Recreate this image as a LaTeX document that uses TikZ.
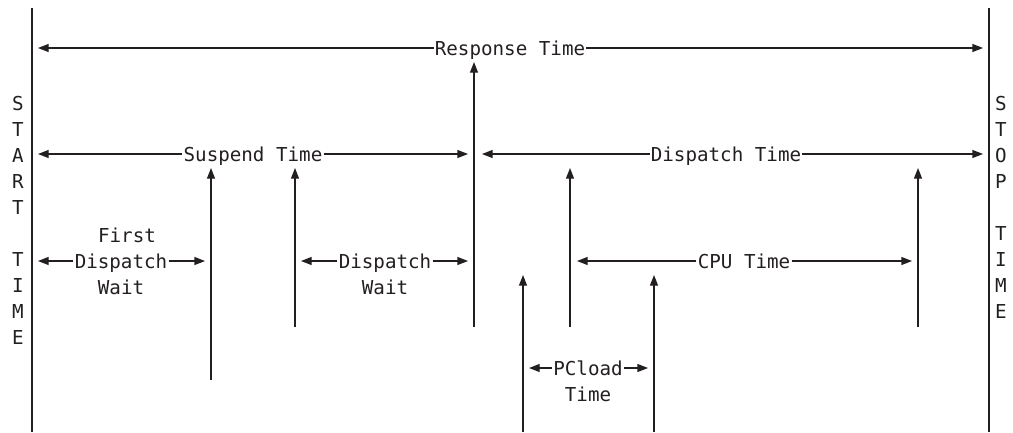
\documentclass[tikz,border=0pt]{standalone}
\usepackage{fontspec}
\usetikzlibrary{arrows.meta}
\newfontfamily\monofont{DejaVu Sans Mono}
\definecolor{ink}{RGB}{35,31,32}
\begin{document}
\begin{tikzpicture}[x=0.75pt,y=-0.75pt,
  line width=1pt, draw=ink, text=ink,
  tip/.style={-{Triangle[length=8pt,width=6pt]}, draw=ink, fill=ink},
  lbl/.style={font=\fontsize{14.4}{17}\monofont, inner xsep=0.5pt, inner ysep=0pt,
              text height=10.5pt, text depth=0pt},
  letter/.style={font=\fontsize{14.4}{17}\monofont, inner sep=0pt,
              text height=10.5pt, text depth=0pt}
]
\useasboundingbox (0,0) rectangle (1013,432);

% start and stop boundaries
\coordinate (startTop) at (32,8);   \coordinate (startBot) at (32,432);
\coordinate (stopTop)  at (989,8);  \coordinate (stopBot)  at (989,432);
\draw (startTop) -- (startBot);
\draw (stopTop) -- (stopBot);

% vertical captions
\foreach \ch/\yy [count=\i] in {S/103,T/129,A/155,R/181,T/207,T/259,I/285,M/311,E/337}
  \node[letter] (start\i) at (18,\yy) {\ch};
\foreach \ch/\yy [count=\i] in {S/103,T/129,O/155,P/181,T/233,I/259,M/285,E/311}
  \node[letter] (stop\i) at (1001,\yy) {\ch};

% event markers
\coordinate (evSusB) at (211,380);  \coordinate (evSusT) at (211,168);
\coordinate (evDwB)  at (295,327);  \coordinate (evDwT)  at (295,168);
\coordinate (evRspB) at (474,327);  \coordinate (evRspT) at (474,62);
\coordinate (evDsB)  at (570,327);  \coordinate (evDsT)  at (570,168);
\coordinate (evEndB) at (918,327);  \coordinate (evEndT) at (918,168);
\coordinate (evPlB)  at (523,432);  \coordinate (evPlT)  at (523,275);
\coordinate (evPeB)  at (654,432);  \coordinate (evPeT)  at (654,275);
\foreach \e in {Sus,Dw,Rsp,Ds,End,Pl,Pe}
  \draw[tip] (ev\e B) -- (ev\e T);

% Response Time
\node[lbl] (resp) at (510,48) {Response Time};
\coordinate (respL) at (38,48);  \coordinate (respR) at (983,48);
\draw[tip] (resp.west) -- (respL);
\draw[tip] (resp.east) -- (respR);

% Suspend Time
\node[lbl] (susp) at (253,154) {Suspend Time};
\coordinate (suspL) at (38,154);  \coordinate (suspR) at (468,154);
\draw[tip] (susp.west) -- (suspL);
\draw[tip] (susp.east) -- (suspR);

% Dispatch Time
\node[lbl] (disp) at (726,154) {Dispatch Time};
\coordinate (dispL) at (482,154);  \coordinate (dispR) at (983,154);
\draw[tip] (disp.west) -- (dispL);
\draw[tip] (disp.east) -- (dispR);

% First Dispatch Wait
\node[lbl] (fdwTop) at (127,235) {First};
\node[lbl] (fdw) at (121,261) {Dispatch};
\node[lbl] (fdwBot) at (121,287) {Wait};
\coordinate (fdwL) at (38,261);  \coordinate (fdwR) at (205,261);
\draw[tip] (fdw.west) -- (fdwL);
\draw[tip] (fdw.east) -- (fdwR);

% Dispatch Wait
\node[lbl] (dw) at (385,261) {Dispatch};
\node[lbl] (dwBot) at (385,287) {Wait};
\coordinate (dwL) at (301,261);  \coordinate (dwR) at (468,261);
\draw[tip] (dw.west) -- (dwL);
\draw[tip] (dw.east) -- (dwR);

% CPU Time
\node[lbl] (cpu) at (744,261) {CPU Time};
\coordinate (cpuL) at (577,261);  \coordinate (cpuR) at (912,261);
\draw[tip] (cpu.west) -- (cpuL);
\draw[tip] (cpu.east) -- (cpuR);

% PCload Time
\node[lbl] (pcl) at (588,368) {PCload};
\node[lbl] (pclBot) at (588,394) {Time};
\coordinate (pclL) at (529,368);  \coordinate (pclR) at (648,368);
\draw[tip] (pcl.west) -- (pclL);
\draw[tip] (pcl.east) -- (pclR);
\end{tikzpicture}
\end{document}
